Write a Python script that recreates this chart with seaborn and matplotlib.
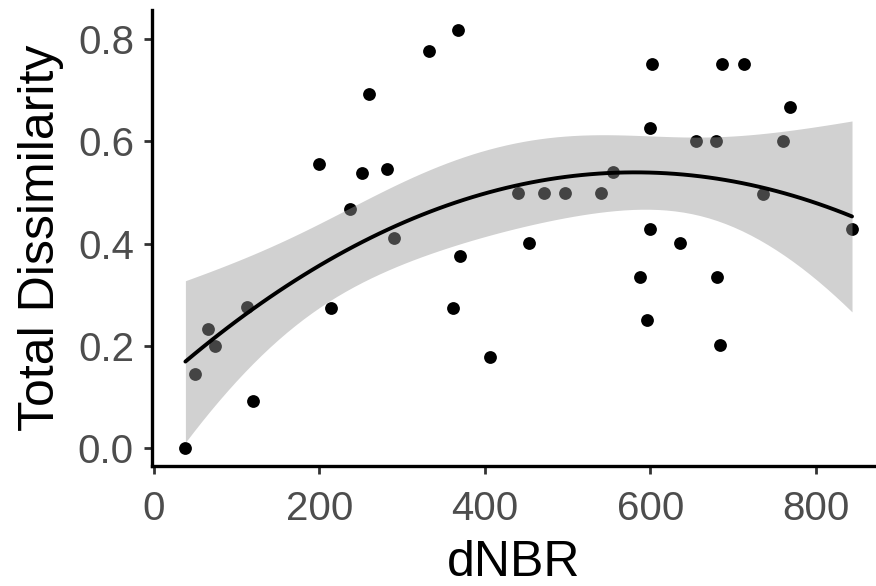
import numpy as np
import pandas as pd
import matplotlib
matplotlib.use("Agg")
import matplotlib.pyplot as plt
import seaborn as sns

# points
dnbr = [38, 50, 65, 74, 113, 120, 199, 214, 237, 252, 260, 282, 290, 333,
        362, 368, 370, 406, 440, 453, 472, 497, 540, 555, 588, 596, 600, 600,
        602, 636, 655, 680, 681, 684, 687, 713, 736, 761, 769, 844]
dissim = [0.000, 0.145, 0.233, 0.200, 0.276, 0.092, 0.556, 0.274, 0.467, 0.539,
          0.692, 0.546, 0.412, 0.777, 0.274, 0.818, 0.376, 0.178, 0.500, 0.402,
          0.500, 0.500, 0.500, 0.540, 0.334, 0.251, 0.626, 0.429, 0.751, 0.402,
          0.601, 0.601, 0.334, 0.201, 0.751, 0.751, 0.498, 0.601, 0.667, 0.429]

df = pd.DataFrame({"dNBR": dnbr, "Total Dissimilarity": dissim})

# quadratic lm fit with 95% confidence band (like geom_smooth(method="lm", y ~ poly(x, 2)))
x = df["dNBR"].to_numpy(float)
y = df["Total Dissimilarity"].to_numpy(float)
X = np.column_stack([np.ones_like(x), x, x ** 2])
beta, *_ = np.linalg.lstsq(X, y, rcond=None)
resid = y - X @ beta
dof = len(x) - 3
s2 = resid @ resid / dof
xtx_inv = np.linalg.inv(X.T @ X)
t_crit = 2.026

grid = np.linspace(x.min(), x.max(), 80)
G = np.column_stack([np.ones_like(grid), grid, grid ** 2])
fit = G @ beta
se = np.sqrt(s2 * np.einsum("ij,jk,ik->i", G, xtx_inv, G))
fit_df = pd.DataFrame({"dNBR": grid, "fit": fit,
                       "lo": fit - t_crit * se, "hi": fit + t_crit * se})

sns.set_style("ticks")
plt.rcParams["font.family"] = ["Liberation Sans", "DejaVu Sans"]

fig = plt.figure(figsize=(8.76, 5.86), dpi=100)
ax = fig.add_axes([0.1735, 0.2048, 0.8265, 0.7782])

sns.scatterplot(data=df, x="dNBR", y="Total Dissimilarity", ax=ax,
                color="black", s=85, linewidth=0, zorder=2)
ax.fill_between(fit_df["dNBR"], fit_df["lo"], fit_df["hi"],
                color="#999999", alpha=0.45, linewidth=0, zorder=3)
sns.lineplot(data=fit_df, x="dNBR", y="fit", ax=ax, color="black",
             linewidth=2.8, zorder=4)

ax.set_xlim(-2.4, 873)
ax.set_ylim(-0.0346, 0.857)
ax.set_xticks([0, 200, 400, 600, 800])
ax.set_yticks([0.0, 0.2, 0.4, 0.6, 0.8])
ax.set_yticklabels(["0.0", "0.2", "0.4", "0.6", "0.8"])

sns.despine(ax=ax)
for side in ["left", "bottom"]:
    ax.spines[side].set_linewidth(2.4)
    ax.spines[side].set_color("black")
ax.tick_params(axis="both", length=6, width=2, color="#333333",
               labelsize=29, labelcolor="#4D4D4D")
ax.tick_params(axis="x", pad=11)
ax.tick_params(axis="y", pad=7)

ax.set_xlabel("dNBR", fontsize=36, color="black", labelpad=9)
ax.set_ylabel("Total Dissimilarity", fontsize=36, color="black", labelpad=10)

fig.savefig("out.png", dpi=100)
